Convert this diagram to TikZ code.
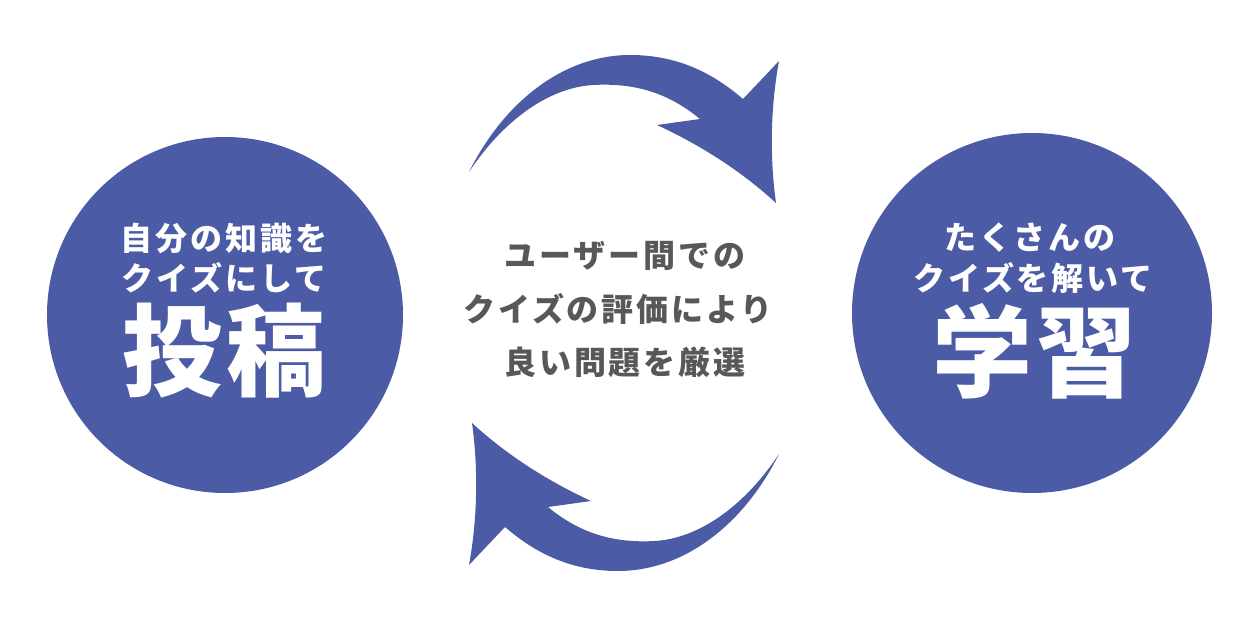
\documentclass[tikz,border=0pt]{standalone}
\usepackage{fontspec}
\newfontfamily\jp{Noto Sans CJK JP}
\definecolor{cblue}{HTML}{4B5BA6}
\definecolor{cgray}{HTML}{595757}
\tikzset{
  small/.style={inner sep=0pt, text=white, font=\jp\bfseries\fontsize{32}{36}\selectfont\addfontfeature{LetterSpace=9}},
  big/.style={inner sep=0pt, text=white, font=\jp\bfseries\fontsize{100}{110}\selectfont\addfontfeature{LetterSpace=4}},
  mid/.style={inner sep=0pt, text=cgray, font=\jp\bfseries\fontsize{32}{36}\selectfont\addfontfeature{LetterSpace=9}},
  bubble/.style={circle, fill=cblue, inner sep=0pt},
  arrowshape/.style={fill=cblue}
}
\begin{document}
\begin{tikzpicture}[x=1pt,y=-1pt]
\useasboundingbox (0,0) rectangle (1251,626);
\node[bubble, minimum size=356pt] (left) at (225,315) {};
\node[bubble, minimum size=360pt] (right) at (1032,313) {};
\node[small] (l1) at (224,238) {自分の知識を};
\node[small] (l2) at (224,278) {クイズにして};
\node[big] (l3) at (224,351) {投稿};
\node[small] (r1) at (1030,238) {たくさんの};
\node[small] (r2) at (1033,278) {クイズを解いて};
\node[big] (r3) at (1034,351) {学習};
\node[mid] (c1) at (625,256) {ユーザー間での};
\node[mid] (c2) at (618,309) {クイズの評価により};
\node[mid] (c3) at (625,362) {良い問題を厳選};
% top arrow
\fill[arrowshape] (469,172) .. controls (505,100) and (565,55) .. (630,55)
  .. controls (680,55) and (715,75) .. (743,99)
  -- (779,61)
  .. controls (770,110) and (770,160) .. (776,203)
  .. controls (740,170) and (700,145) .. (657,125)
  -- (700,119)
  .. controls (665,90) and (630,83) .. (593,85)
  .. controls (545,88) and (500,125) .. (469,172) -- cycle;
% bottom arrow (top arrow turned half a turn)
\fill[arrowshape] (779,454) .. controls (743,526) and (683,571) .. (618,571)
  .. controls (568,571) and (533,551) .. (505,527)
  -- (469,565)
  .. controls (478,516) and (478,466) .. (472,423)
  .. controls (508,456) and (548,481) .. (591,501)
  -- (548,507)
  .. controls (583,536) and (618,543) .. (655,541)
  .. controls (703,538) and (748,501) .. (779,454) -- cycle;
\end{tikzpicture}
\end{document}
